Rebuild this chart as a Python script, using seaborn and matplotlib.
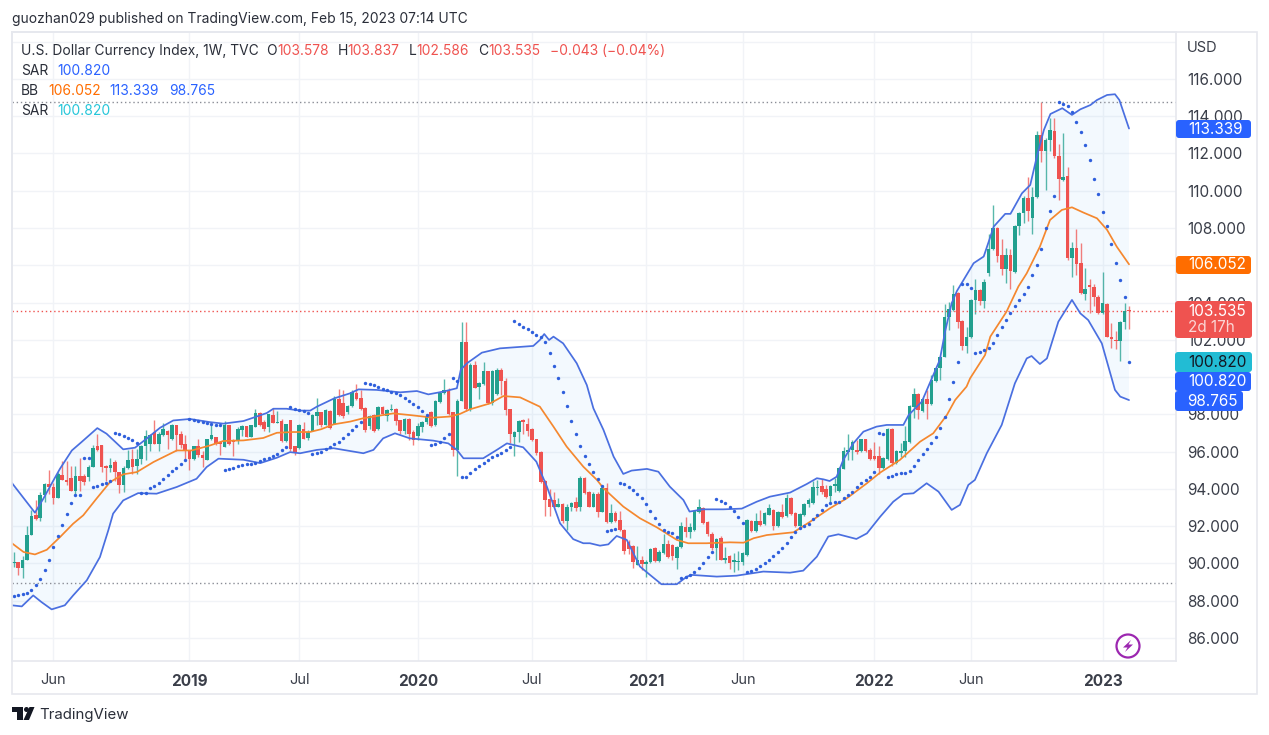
import numpy as np
import matplotlib
matplotlib.use("Agg")
import matplotlib.pyplot as plt
from matplotlib.patches import FancyBboxPatch, Polygon, Circle
from matplotlib.transforms import IdentityTransform
import seaborn as sns

W, H = 1269, 735

# weekly candles
opens = [
    90.0, 90.05, 89.75, 90.2, 91.5, 92.6, 92.45, 93.65, 94.25, 94.1,
    93.5, 94.75, 94.5, 94.6, 93.9, 94.7, 94.7, 94.65, 95.15, 96.3,
    96.35, 95.2, 95.1, 95.45, 94.9, 94.2, 95.1, 95.6, 95.25, 95.6,
    96.3, 96.4, 97.05, 96.4, 96.9, 97.1, 96.65, 97.4, 96.95, 96.4,
    96.1, 95.6, 96.3, 95.8, 95.55, 96.65, 96.8, 96.5, 96.25, 97.4,
    96.6, 96.55, 97.15, 97.35, 96.8, 97.3, 98.05, 97.6, 97.3, 97.95,
    97.55, 97.65, 96.55, 97.7, 96.3, 96.2, 97.2, 96.75, 97.1, 97.9,
    98.1, 97.45, 98.2, 97.5, 98.8, 98.6, 98.1, 98.45, 99.15, 98.85,
    98.35, 97.35, 97.95, 97.2, 98.4, 97.9, 98.25, 98.3, 97.7, 97.1,
    97.75, 97.05, 96.85, 97.3, 97.6, 98.15, 97.4, 98.65, 99.15, 99.3,
    98.1, 96.1, 98.7, 101.9, 98.27, 100.65, 99.45, 99.65, 100.3, 98.6,
    99.1, 100.4, 99.8, 98.3, 96.8, 97.05, 97.7, 97.5, 97.2, 96.65,
    96.0, 94.4, 93.45, 93.4, 93.05, 93.2, 92.3, 93.0, 93.3, 93.0,
    94.6, 93.85, 93.05, 93.75, 92.78, 94.07, 92.2, 92.7, 92.35, 91.8,
    91.15, 90.95, 89.9, 90.2, 89.95, 90.05, 90.85, 90.15, 90.55, 91.05,
    91.0, 90.3, 90.9, 91.95, 91.7, 91.8, 92.75, 92.95, 92.2, 91.6,
    90.8, 91.35, 90.2, 90.4, 90.1, 90.07, 90.1, 90.45, 92.3, 91.75,
    92.25, 92.1, 92.6, 92.85, 92.0, 92.75, 92.55, 93.5, 92.7, 92.0,
    92.6, 93.2, 93.25, 94.05, 94.17, 94.0, 93.6, 94.15, 93.9, 95.05,
    96.0, 96.1, 96.1, 96.05, 96.65, 96.1, 95.75, 95.75, 95.1, 95.6,
    97.2, 95.4, 95.95, 96.05, 96.5, 98.4, 99.1, 98.2, 98.8, 98.55,
    99.8, 100.5, 101.1, 103.2, 103.6, 104.5, 103.0, 101.65, 102.15, 104.15,
    104.65, 104.1, 105.6, 106.85, 108.0, 106.55, 105.8, 106.55, 105.65, 108.1,
    108.8, 109.6, 108.55, 109.65, 113.0, 112.15, 112.7, 113.2, 111.85, 110.55,
    110.8, 106.4, 106.95, 106.1, 104.45, 104.95, 104.85, 104.3, 103.45, 103.9,
    102.15, 102.0, 101.95, 102.97, 103.578,
]
closes = [
    90.1, 89.75, 90.2, 91.5, 92.55, 92.4, 93.65, 94.25, 94.1, 93.5,
    94.8, 94.45, 94.35, 93.9, 94.7, 94.4, 94.35, 95.15, 96.2, 96.1,
    95.15, 95.1, 95.3, 94.9, 94.2, 95.1, 95.55, 95.15, 95.6, 96.3,
    96.85, 96.9, 96.4, 96.95, 97.2, 96.9, 97.4, 96.9, 96.35, 96.05,
    95.6, 96.3, 95.8, 95.65, 96.65, 96.9, 96.4, 96.4, 97.4, 96.4,
    96.5, 97.2, 97.35, 96.8, 97.4, 98.05, 97.4, 97.2, 98.0, 97.55,
    97.6, 96.55, 97.5, 96.15, 96.0, 97.4, 96.7, 97.05, 97.95, 98.15,
    97.4, 98.25, 97.25, 98.8, 97.95, 97.9, 98.45, 99.2, 98.8, 98.3,
    97.15, 97.9, 97.1, 98.4, 98.0, 98.25, 98.3, 97.65, 97.1, 97.75,
    96.95, 96.6, 97.35, 97.6, 97.9, 97.35, 98.7, 99.15, 99.3, 98.0,
    96.1, 98.7, 101.9, 98.27, 100.65, 99.4, 99.7, 100.3, 98.6, 100.35,
    100.4, 99.8, 98.25, 96.95, 97.05, 97.65, 97.6, 97.1, 96.6, 95.95,
    94.35, 93.4, 93.05, 93.05, 93.2, 92.25, 93.0, 93.25, 92.95, 94.6,
    93.8, 93.05, 93.75, 92.75, 94.07, 92.2, 92.7, 92.3, 91.8, 90.65,
    90.75, 90.1, 90.2, 89.95, 90.1, 90.75, 90.15, 90.6, 91.05, 90.35,
    90.4, 90.9, 92.0, 91.7, 91.95, 92.8, 93.0, 92.15, 91.55, 90.8,
    91.3, 90.2, 90.3, 90.0, 90.15, 90.15, 90.55, 92.35, 91.75, 92.25,
    92.05, 92.7, 92.95, 92.0, 92.75, 92.5, 93.5, 92.65, 92.0, 92.65,
    93.2, 93.4, 94.1, 94.12, 93.85, 93.55, 94.15, 94.25, 95.1, 96.05,
    96.1, 96.5, 96.0, 96.65, 96.05, 95.6, 95.6, 95.1, 95.65, 97.2,
    95.4, 96.05, 96.05, 96.55, 98.45, 99.1, 98.25, 98.8, 98.55, 99.85,
    100.5, 101.1, 103.2, 103.65, 104.45, 102.98, 101.65, 102.15, 104.15, 104.65,
    104.1, 105.1, 106.85, 108.0, 106.5, 105.8, 106.55, 105.7, 108.1, 108.8,
    109.6, 108.9, 109.65, 113.0, 112.15, 112.75, 113.25, 111.85, 110.65, 110.75,
    106.4, 106.95, 106.05, 104.5, 104.75, 104.85, 104.3, 103.45, 103.95, 102.15,
    102.05, 101.95, 102.97, 103.55, 103.535,
]
highs = [
    90.6, 90.1, 90.4, 92.0, 92.85, 93.4, 93.85, 94.3, 95.0, 94.3,
    94.9, 95.5, 95.5, 95.2, 95.2, 95.65, 94.8, 95.3, 96.35, 96.95,
    96.35, 95.3, 95.65, 95.55, 94.9, 95.25, 96.1, 96.15, 96.15, 96.35,
    97.15, 96.95, 97.7, 97.05, 97.55, 97.15, 97.5, 97.4, 97.1, 96.9,
    96.1, 96.3, 96.65, 96.05, 96.65, 97.4, 96.8, 96.55, 97.65, 97.4,
    96.65, 97.3, 97.4, 97.35, 97.4, 98.3, 98.1, 97.7, 98.0, 98.35,
    98.2, 97.75, 97.5, 97.7, 96.3, 97.5, 97.6, 97.15, 98.0, 98.9,
    98.15, 98.3, 98.25, 99.0, 99.35, 99.3, 98.5, 99.3, 99.65, 99.3,
    98.4, 97.95, 98.0, 98.45, 98.45, 98.3, 98.55, 98.35, 97.7, 97.8,
    97.8, 97.15, 97.55, 97.65, 98.0, 98.2, 98.75, 99.2, 99.9, 99.4,
    98.15, 98.8, 102.95, 102.95, 100.75, 100.85, 99.75, 100.8, 100.35, 100.4,
    100.5, 100.5, 99.95, 98.3, 97.1, 97.7, 97.75, 97.8, 97.25, 96.7,
    96.05, 94.45, 93.98, 93.85, 93.5, 93.25, 93.2, 93.3, 93.55, 94.7,
    94.65, 93.9, 93.85, 93.85, 94.2, 94.3, 93.2, 92.8, 92.8, 91.85,
    91.25, 91.0, 90.95, 90.4, 90.2, 90.8, 90.9, 90.7, 91.6, 91.25,
    91.05, 90.95, 92.2, 92.5, 92.15, 92.8, 93.45, 93.0, 92.25, 91.7,
    91.35, 91.45, 90.9, 90.45, 90.55, 90.65, 90.6, 92.4, 92.35, 92.7,
    92.85, 92.75, 93.2, 92.9, 92.8, 93.2, 93.75, 93.55, 92.75, 92.7,
    93.25, 93.5, 94.4, 94.5, 94.55, 94.2, 94.2, 94.6, 95.15, 96.25,
    96.95, 96.6, 96.6, 96.7, 96.7, 96.2, 96.5, 96.3, 95.7, 97.25,
    97.25, 96.1, 96.45, 97.35, 98.5, 99.4, 99.15, 98.85, 99.3, 100.1,
    100.5, 101.15, 103.9, 104.05, 104.95, 104.55, 103.05, 102.7, 104.2, 105.25,
    104.7, 105.25, 107.7, 109.25, 108.05, 107.4, 106.9, 106.85, 108.15, 108.85,
    109.7, 110.75, 110.2, 113.2, 114.75, 112.85, 113.9, 113.9, 112.5, 113.1,
    111.25, 107.25, 107.95, 107.2, 105.85, 105.25, 105.0, 104.4, 105.65, 103.95,
    102.9, 102.45, 103.0, 103.95, 103.837,
]
lows = [
    89.8, 89.35, 89.2, 90.2, 91.5, 92.35, 92.25, 93.3, 93.7, 93.2,
    93.5, 94.45, 94.2, 93.9, 93.65, 93.9, 94.2, 94.4, 95.15, 96.05,
    94.9, 94.4, 94.9, 94.4, 93.8, 93.85, 95.05, 94.8, 94.8, 95.35,
    95.55, 96.05, 96.4, 96.05, 96.85, 96.15, 96.6, 96.05, 96.2, 95.55,
    95.0, 95.55, 95.7, 95.15, 95.55, 96.6, 96.35, 95.8, 96.25, 96.35,
    95.75, 96.4, 96.85, 96.8, 96.8, 97.3, 97.35, 97.1, 97.05, 97.55,
    97.55, 96.5, 96.5, 96.05, 95.8, 96.15, 96.65, 96.6, 97.1, 97.45,
    97.3, 97.4, 97.2, 97.5, 97.9, 97.8, 98.0, 98.4, 98.75, 98.25,
    97.05, 97.2, 97.05, 97.15, 97.95, 97.65, 98.2, 97.45, 96.95, 96.95,
    96.6, 96.35, 96.6, 97.05, 97.5, 97.3, 97.35, 98.6, 99.1, 97.95,
    95.75, 94.7, 98.7, 98.2, 98.2, 99.4, 98.8, 99.6, 98.55, 98.5,
    99.05, 99.05, 97.95, 96.45, 95.75, 96.5, 96.95, 96.85, 96.55, 95.8,
    94.3, 92.55, 92.55, 93.0, 93.0, 92.15, 91.8, 92.8, 92.8, 92.8,
    93.75, 93.05, 93.0, 92.5, 92.78, 92.15, 92.15, 92.2, 91.75, 90.5,
    90.5, 89.75, 89.9, 89.65, 89.25, 90.0, 90.05, 90.1, 90.5, 90.3,
    90.2, 89.7, 90.85, 91.4, 91.35, 91.75, 92.7, 92.1, 91.45, 90.7,
    90.2, 90.2, 90.0, 89.7, 89.55, 89.65, 89.9, 90.4, 91.7, 91.7,
    92.0, 92.05, 92.6, 91.8, 91.95, 92.45, 92.5, 92.6, 91.95, 91.95,
    92.55, 93.0, 93.2, 93.65, 93.75, 93.5, 93.3, 93.85, 93.85, 95.05,
    95.55, 95.55, 95.85, 96.0, 96.0, 95.55, 95.55, 94.8, 95.05, 95.55,
    95.2, 95.35, 95.7, 95.7, 96.45, 97.8, 97.75, 98.15, 97.75, 98.5,
    99.75, 99.85, 101.05, 102.55, 103.55, 102.65, 101.45, 101.3, 102.1, 103.4,
    103.85, 103.7, 105.4, 106.8, 106.2, 105.5, 105.05, 104.7, 105.6, 107.6,
    108.25, 108.35, 107.7, 109.6, 111.55, 110.05, 112.15, 111.75, 109.5, 110.5,
    106.3, 105.35, 105.5, 104.45, 104.15, 103.45, 103.8, 103.4, 103.4, 102.15,
    101.55, 101.5, 100.85, 102.6, 102.586,
]

# parabolic SAR, one dot per week
sar = [
    88.25, 88.32, 88.34, 88.41, 88.55, 88.82, 89.14, 89.63, 90.2, 90.88,
    91.45, 92.04, 92.63, 93.24, 93.69, 93.69, 95.66, 95.66, 94.1, 94.15,
    94.24, 94.31, 94.4, 97.01, 96.96, 96.84, 96.73, 96.6, 96.48, 93.79,
    93.79, 94.06, 94.13, 94.31, 94.55, 94.72, 94.94, 95.14, 95.35, 95.57,
    97.73, 97.68, 97.64, 97.59, 97.55, 97.5, 97.44, 97.41, 95.03, 95.07,
    95.14, 95.21, 95.28, 95.32, 95.35, 95.4, 95.49, 95.6, 95.67, 95.76,
    95.89, 96.07, 96.25, 98.39, 98.3, 98.25, 98.18, 98.07, 95.87, 95.91,
    96.0, 96.12, 96.27, 96.39, 96.53, 96.71, 96.95, 97.16, 97.37, 97.57,
    99.7, 99.63, 99.57, 99.45, 99.34, 99.31, 99.22, 99.13, 99.04, 98.9,
    98.73, 98.56, 98.38, 98.18, 97.96, 96.35, 96.39, 96.53, 96.71, 96.95,
    99.93, 99.81, 94.66, 94.66, 94.83, 95.05, 95.25, 95.41, 95.55, 95.69,
    95.82, 95.94, 96.09, 96.27, 103.03, 102.85, 102.71, 102.58, 102.44, 102.26,
    102.17, 101.86, 101.31, 100.59, 99.95, 99.18, 98.45, 97.66, 96.95, 96.32,
    95.78, 95.32, 94.92, 94.51, 94.15, 91.76, 91.79, 91.85, 94.33, 94.24,
    94.12, 93.94, 93.71, 93.49, 93.17, 92.81, 92.46, 92.1, 91.79, 91.67,
    91.61, 91.4, 89.24, 89.29, 89.38, 89.52, 89.74, 90.04, 90.36, 90.63,
    93.46, 93.35, 93.22, 93.05, 92.81, 92.47, 92.19, 89.52, 89.59, 89.68,
    89.88, 90.0, 90.18, 90.42, 90.63, 90.85, 91.08, 91.4, 91.7, 91.92,
    92.0, 92.12, 92.37, 92.6, 92.87, 93.13, 93.22, 93.31, 93.31, 93.49,
    93.67, 93.85, 94.08, 94.3, 94.48, 94.66, 94.92, 96.98, 96.93, 94.62,
    94.71, 94.78, 94.83, 94.83, 94.98, 95.25, 95.55, 95.87, 96.14, 96.44,
    96.8, 97.29, 97.84, 98.81, 99.75, 100.81, 105.0, 105.0, 104.8, 101.31,
    101.36, 101.45, 101.54, 101.81, 102.26, 102.67, 103.06, 103.46, 103.81, 104.14,
    104.46, 104.86, 105.48, 106.02, 106.86, 107.99, 108.93, 109.74, 114.75, 114.66,
    114.57, 114.21, 113.68, 113.17, 112.46, 111.65, 110.65, 109.81, 108.88, 108.13,
    107.15, 106.14, 105.2, 104.32, 100.82,
]

# Bollinger bands, read at the visible bends of each line
upper_weeks = [
    -0.5, 4.8, 6.7, 9, 10.5, 13.2, 15.4, 19, 21.1, 24.9, 27.6, 30.2, 33.3, 36.3, 40.1, 44.7,
    47.7, 52.3, 54.9, 57.6, 59.1, 62.1, 65.2, 67.5, 69, 73, 76.6, 78.5, 82.6, 88, 91.8, 94.4,
    97.8, 100.9, 101.8, 103.2, 106.6, 110.7, 118.3, 119.8, 120.8, 121.9, 122.9, 125.1, 128.2,
    130.5, 132, 134.3, 136.6, 138.8, 140.7, 144.2, 146.8, 149.4, 152.5, 153.9, 157, 161.6,
    165.8, 169.2, 172.2, 176.8, 180.6, 182.9, 184.4, 185.8, 187.4, 188.9, 191.2, 193.5, 196.5,
    198.8, 202.6, 203.8, 206.8, 210.9, 212.1, 213.6, 214.8, 218.6, 220.9, 223.2, 225.8, 227,
    229.6, 231.5, 233, 234.6, 236.1, 238.8, 241, 242.9, 245.2, 246.7, 249, 250.8, 251.8, 254,
]
upper_band = [
    94.33, 92.72, 93.47, 94.45, 95.08, 96.06, 96.51, 97.26, 96.96, 96.12, 96.21, 96.69, 97.28,
    97.67, 97.75, 97.58, 97.5, 97.64, 97.85, 98.07, 98.3, 98.3, 98.2, 98.2, 98.41, 98.86, 99.13,
    99.34, 99.31, 99.18, 99.25, 99.07, 99.22, 99.4, 100.4, 100.74, 101.31, 101.54, 101.67,
    101.99, 102.31, 101.99, 102.17, 101.81, 100.74, 99.57, 98.32, 97.16, 95.73, 94.8, 94.98,
    95.07, 94.92, 94.12, 93.4, 92.78, 92.9, 92.9, 92.94, 93.31, 93.58, 93.8, 94.26, 94.57,
    94.51, 94.42, 94.65, 95.55, 96.44, 97.07, 97.34, 97.43, 97.43, 97.96, 98.68, 100.92, 102.44,
    103.96, 104.62, 106.11, 106.47, 108.08, 108.76, 108.76, 109.86, 110.31, 111.83, 113.26,
    114.12, 114.43, 114.07, 114.37, 114.6, 114.87, 115.14, 115.18, 114.87, 113.339,
]
mid_weeks = [
    -0.5, 2.2, 4.8, 7.5, 10.5, 13.5, 15.8, 18.8, 21.9, 24.9, 28, 31.8, 37.1, 40.5, 44.7, 47.7,
    52.3, 56.8, 59.9, 63.6, 67.4, 70, 72.8, 76.6, 79.6, 86.4, 90.2, 95.5, 99.3, 101.6, 103.9,
    108.5, 111.5, 115.3, 119.8, 122.9, 125.9, 129.7, 132.8, 134.3, 138.8, 142.6, 146.4, 151,
    153.6, 157.8, 163.1, 166.2, 168.5, 171.5, 177.6, 181.4, 185.9, 189.7, 194.3, 197.3, 201.8,
    206.4, 209.4, 212.5, 214.4, 217, 217.8, 221.2, 222.4, 226.1, 228.8, 230.7, 233.7, 236,
    238.7, 241, 243.6, 246.7, 249, 251.2, 254,
]
mid_band = [
    91.09, 90.61, 90.48, 90.73, 91.41, 92.13, 92.58, 93.47, 94.36, 94.78, 94.9, 95.44, 96.06,
    96.06, 96.33, 96.57, 96.6, 96.73, 97.01, 97.05, 97.05, 97.2, 97.46, 97.61, 97.79, 98.05,
    97.96, 97.82, 97.88, 98.02, 98.27, 98.59, 98.98, 98.91, 98.41, 97.34, 96.27, 95.19, 94.48,
    94.03, 93.05, 92.42, 91.94, 91.26, 91.08, 91.08, 91.13, 91.11, 91.35, 91.52, 91.67, 92.24,
    92.96, 93.49, 94.3, 94.87, 95.55, 96.53, 96.98, 97.96, 98.77, 99.49, 99.93, 101.18, 102.17,
    103.51, 104.86, 105.57, 107.0, 108.43, 108.97, 109.11, 108.83, 108.52, 107.9, 107.0, 106.052,
]
lower_weeks = [
    -0.5, 1.8, 4.4, 6.3, 8.6, 11.6, 13.5, 16.6, 19.6, 21.5, 22.6, 24.9, 28.3, 32.5, 37.1, 41.6,
    43.9, 46.6, 52.3, 56.1, 59.9, 62.9, 65.2, 69, 72.8, 79.6, 81.9, 84.1, 86.8, 90.2, 95.5,
    98.95, 100.9, 102.4, 106.9, 110, 112.3, 116, 119, 121.4, 124.4, 127.4, 129.7, 131.2, 133.5,
    135.4, 137.3, 139.6, 142.6, 144.9, 147.5, 151, 153.3, 154.4, 160.1, 164.6, 170.7, 176.8,
    179.8, 182.9, 185.5, 187.8, 191.9, 194.3, 197.3, 200.3, 202.6, 204.9, 207.9, 210.6, 213.6,
    215.5, 217.4, 218.9, 221.6, 225, 228, 230.7, 231.8, 233.7, 235.3, 237.9, 241, 242.9, 244.7,
    247.8, 250.8, 252, 254,
]
lower_band = [
    87.75, 87.69, 88.28, 87.92, 87.53, 87.75, 88.28, 89.09, 90.34, 91.77, 92.67, 93.38, 93.77,
    93.74, 94.1, 94.54, 95.17, 95.62, 95.56, 95.38, 95.67, 95.97, 95.91, 96.09, 96.18, 95.91,
    96.09, 96.71, 96.98, 96.71, 96.59, 96.44, 96.09, 95.64, 95.64, 96.09, 96.44, 96.23, 95.46,
    94.12, 92.15, 91.3, 91.08, 91.08, 90.95, 91.02, 91.47, 91.26, 89.83, 89.38, 88.88, 88.88,
    89.29, 89.38, 89.29, 89.34, 89.56, 89.5, 89.61, 90.36, 91.44, 91.56, 91.31, 91.61, 92.5,
    93.31, 93.72, 93.76, 94.3, 93.85, 92.87, 93.14, 94.21, 94.48, 95.91, 97.43, 99.66, 101.0,
    101.13, 100.7, 101.0, 102.97, 104.14, 103.42, 103.06, 101.81, 99.31, 98.95, 98.765,
]

y_ticks = list(range(86, 120, 2))
y_labels = [f"{v}.000" for v in y_ticks[:-1]] + [""]
x_ticks = [9, 40, 65, 92, 118, 144, 166, 196, 218, 248]
x_labels = ["Jun", "2019", "Jul", "2020", "Jul", "2021", "Jun", "2022", "Jun", "2023"]

last_close = 103.535
range_high = 114.778
range_low = 88.953

GREEN = "#22a08f"
RED = "#ef5350"
BB_BLUE = "#4a6fe0"
ORANGE = "#f5882f"
SAR_BLUE = "#2f5fdc"
GRID = "#f1f3f7"
FRAME = "#e6e8ee"
TEXT = "#2a2e39"

sns.set_theme(style="white")
plt.rcParams["font.family"] = ["Inter", "DejaVu Sans"]

fig = plt.figure(figsize=(W / 100, H / 100), dpi=100)
ax = fig.add_axes([12 / W, 1 - 661 / H, (1176 - 12) / W, (661 - 32) / H])

weeks = np.arange(len(closes))
o, c, hi, lo = map(np.array, (opens, closes, highs, lows))
up = c >= o
colors = np.where(up, GREEN, RED)

ax.fill(upper_weeks + lower_weeks[::-1], upper_band + lower_band[::-1],
        color="#2196f3", alpha=0.05, lw=0, zorder=1)

ax.vlines(weeks, lo, hi, colors=colors, linewidth=1.0, alpha=0.75, zorder=2)
ax.bar(weeks, np.maximum(np.abs(c - o), 0.06), bottom=np.minimum(o, c), width=0.82,
       color=colors, linewidth=0, zorder=3)

sns.lineplot(x=upper_weeks, y=upper_band, ax=ax, color=BB_BLUE, linewidth=1.25, sort=False, estimator=None, zorder=4)
sns.lineplot(x=lower_weeks, y=lower_band, ax=ax, color=BB_BLUE, linewidth=1.25, sort=False, estimator=None, zorder=4)
sns.lineplot(x=mid_weeks, y=mid_band, ax=ax, color=ORANGE, linewidth=1.25, sort=False, estimator=None, zorder=4)
sns.scatterplot(x=weeks, y=sar, ax=ax, color=SAR_BLUE, s=6, linewidth=0, zorder=5)

for level, col in [(range_high, "#8a8d96"), (range_low, "#8a8d96"), (last_close, RED)]:
    ax.axhline(level, color=col, linewidth=1, linestyle=(0, (1, 2)), zorder=2)

ax.set_xlim(-0.43, 264.7)
ax.set_ylim(84.76, 118.52)
ax.set_xticks(x_ticks)
ax.set_xticklabels(x_labels)
ax.set_yticks(y_ticks)
ax.set_yticklabels(y_labels)
ax.yaxis.tick_right()
ax.grid(True, color=GRID, linewidth=1)
ax.set_axisbelow(True)
ax.tick_params(axis="both", length=0, labelsize=11, labelcolor="#3a3e49")
ax.tick_params(axis="x", pad=9)
ax.tick_params(axis="y", pad=8)
for label in ax.get_xticklabels():
    if label.get_text().startswith("20"):
        label.set_fontweight("bold")
    else:
        label.set_fontsize(10.5)
for spine in ax.spines.values():
    spine.set_color(FRAME)
    spine.set_linewidth(1.2)


def put_text(x, y, s, color=TEXT, size=11, **kw):
    fig.text(x / W, 1 - (y + 1) / H, s, color=color, fontsize=size, va="center", **kw)


def put_box(x0, y0, x1, y1, color):
    fig.add_artist(FancyBboxPatch((x0 + 2, H - y1 + 2), x1 - x0 - 4, y1 - y0 - 4,
                                  boxstyle="round,pad=2,rounding_size=3", facecolor=color,
                                  edgecolor="none", transform=IdentityTransform(), zorder=2))


def put_poly(points, color):
    fig.add_artist(Polygon([(x, H - y) for x, y in points], closed=True, facecolor=color,
                           edgecolor="none", transform=IdentityTransform(), zorder=2))


# outer frame around chart and scales
fig.add_artist(FancyBboxPatch((12, H - 694), 1245, 662, boxstyle="square,pad=0", facecolor="none",
                              edgecolor=FRAME, linewidth=1.2, transform=IdentityTransform(), zorder=1))

put_text(12, 18, "guozhan029 published on TradingView.com, Feb 15, 2023 07:14 UTC", size=9.95)

put_text(21, 50, "U.S. Dollar Currency Index, 1W, TVC", size=9.95)
for x, s, col in [(266, "O", TEXT), (277, "103.578", RED), (338, "H", TEXT), (347, "103.837", RED),
                  (409, "L", TEXT), (416, "102.586", RED), (478, "C", TEXT), (488, "103.535", RED),
                  (550, "\u22120.043 (\u22120.04%)", RED)]:
    put_text(x, 50, s, color=col, size=9.95)
put_text(21, 70, "SAR", size=9.95)
put_text(57, 70, "100.820", color="#2962ff", size=9.95)
put_text(21, 90, "BB", size=9.95)
put_text(48, 90, "106.052", color="#ff6d00", size=9.95)
put_text(109, 90, "113.339", color="#2962ff", size=9.95)
put_text(169, 90, "98.765", color="#2962ff", size=9.95)
put_text(21, 110, "SAR", size=9.95)
put_text(57, 110, "100.820", color="#26c6da", size=9.95)

put_text(1187, 47, "USD", color="#3a3e49", size=10.5)

# price tags on the right scale
put_box(1176, 120, 1251, 138, "#2962ff")
put_text(1188, 128, "113.339", color="white")
put_box(1176, 256, 1251, 274, "#ff6d00")
put_text(1188, 264, "106.052", color="white")
put_box(1175, 301, 1252, 338, RED)
put_text(1188, 310, "103.535", color="white")
put_text(1188, 327, "2d 17h", color="#fbd5d4")
put_box(1175, 352, 1252, 372, "#22bcd4")
put_text(1188, 361, "100.820", color="#131722")
put_box(1175, 372, 1251, 391, "#2962ff")
put_text(1188, 380, "100.820", color="white")
put_box(1175, 391, 1243, 411, "#2962ff")
put_text(1187, 400, "98.765", color="white")

# lightning badge
fig.add_artist(Circle((1128, H - 646), 11.5, facecolor="white", edgecolor="#9c27b0", linewidth=1.6,
                      transform=IdentityTransform(), zorder=2))
put_poly([(1131, 640), (1123, 647.5), (1127.5, 647.5), (1125, 652), (1133, 644.5), (1128.5, 644.5)], "#9c27b0")

# TradingView mark
put_poly([(12, 707), (22.5, 707), (22.5, 720), (17, 720), (17, 712), (12, 712)], "#131722")
fig.add_artist(Circle((26.5, H - 709.5), 2.5, facecolor="#131722", edgecolor="none",
                      transform=IdentityTransform(), zorder=2))
put_poly([(29.5, 707), (34.5, 707), (29, 720), (23.5, 720)], "#131722")
put_text(39, 714, "TradingView", color="#2a2e39", size=10.8)

fig.savefig("out.png", dpi=100, facecolor="white")
